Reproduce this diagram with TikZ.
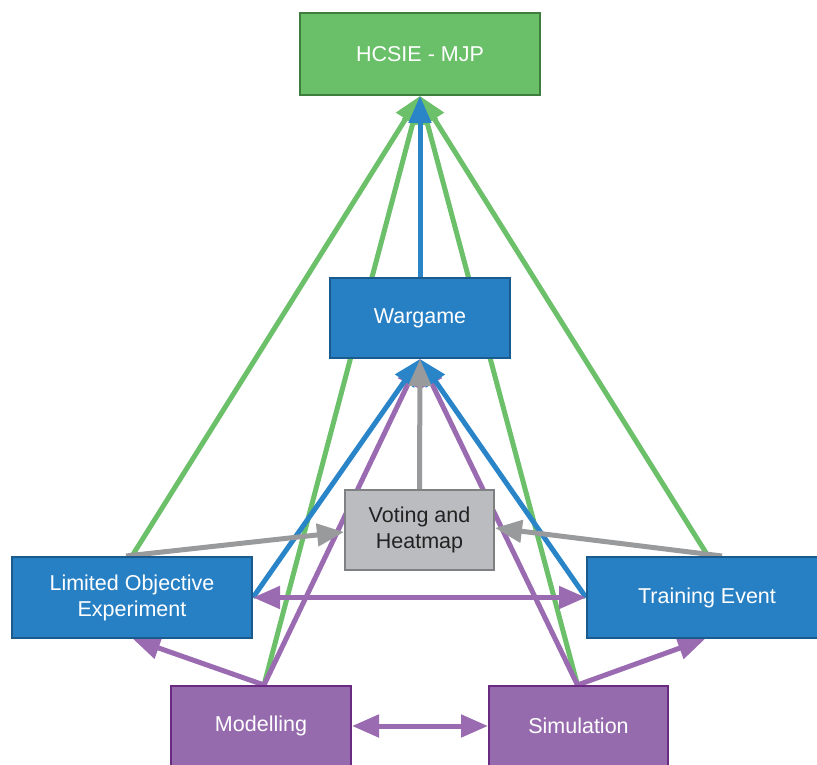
\documentclass[tikz,border=0pt]{standalone}
\usepackage{fontspec}
\setmainfont{Liberation Sans}
\usetikzlibrary{arrows.meta,calc,backgrounds}

\definecolor{grnfill}{HTML}{6ABF69}
\definecolor{grnedge}{HTML}{3D7E3C}
\definecolor{grnline}{HTML}{6CC06A}
\definecolor{blufill}{HTML}{2880C4}
\definecolor{bluedge}{HTML}{1B5A8C}
\definecolor{bluline}{HTML}{2A85C8}
\definecolor{gryfill}{HTML}{BBBCBF}
\definecolor{gryedge}{HTML}{7F8082}
\definecolor{gryline}{HTML}{999A9C}
\definecolor{purfill}{HTML}{966BAD}
\definecolor{puredge}{HTML}{6B2A82}
\definecolor{purline}{HTML}{9A6BB0}
\definecolor{txtdark}{HTML}{222222}

\tikzset{
  box/.style={draw, line width=2pt, inner sep=0pt, align=center,
    font=\fontsize{21.5}{26}\selectfont, text=white},
  greenbox/.style={box, fill=grnfill, draw=grnedge},
  bluebox/.style={box, fill=blufill, draw=bluedge},
  graybox/.style={box, fill=gryfill, draw=gryedge, text=txtdark},
  purplebox/.style={box, fill=purfill, draw=puredge},
  link/.style={line width=5pt, -{Triangle[length=27pt,width=22pt]}},
  twoway/.style={line width=5pt, {Triangle[length=27pt,width=22pt]}-{Triangle[length=27pt,width=22pt]}},
}

\begin{document}
\begin{tikzpicture}[x=1pt,y=-1pt]
\useasboundingbox (0,0) rectangle (817,765);

% boxes
\node[greenbox, minimum width=240, minimum height=82] (hcsie) at (420,54) {HCSIE - MJP};
\node[bluebox, minimum width=180, minimum height=80] (war) at (420,318) {Wargame};
\node[graybox, minimum width=149, minimum height=80] (vote) at (419.5,530) {Voting and\\Heatmap};
\node[bluebox, minimum width=240, minimum height=81] (loe) at (132,597.5) {Limited Objective\\Experiment};
\node[bluebox, minimum width=240, minimum height=81] (train) at (707,597.5) {Training Event};
\node[purplebox, minimum width=180, minimum height=80] (model) at (261,726) {Modelling};
\node[purplebox, minimum width=179, minimum height=80] (sim) at (578.5,726) {Simulation};

% connector end points on the box edges
\coordinate (loeTop) at ($(loe.north)+(0,0)$);
\coordinate (loeGray) at ($(loe.north)+(-6,0)$);
\coordinate (trainTop) at ($(train.north)+(1,0)$);
\coordinate (trainGray) at ($(train.north)+(15,0)$);
\coordinate (modelTop) at ($(model.north)+(3,0)$);
\coordinate (simTop) at ($(sim.north)+(-1,0)$);
\coordinate (voteIn) at ($(vote.west)+(0,2)$);
\coordinate (voteInR) at ($(vote.east)+(0,-2)$);
\coordinate (loeBot) at ($(loe.south)+(1,0)$);
\coordinate (trainBot) at ($(train.south)+(-2,0)$);

% connectors, kept under the boxes
\begin{scope}[on background layer]
  % everything feeds the MJP
  \draw[link, grnline] (loeTop) -- (hcsie.south);
  \draw[link, grnline] (trainTop) -- (hcsie.south);
  \draw[link, grnline] (modelTop) -- (hcsie.south);
  \draw[link, grnline] (simTop) -- (hcsie.south);
  % modelling and simulation support the other events
  \draw[link, purline] (modelTop) -- (war.south);
  \draw[link, purline] (simTop) -- (war.south);
  \draw[link, purline] (modelTop) -- (loeBot);
  \draw[link, purline] (simTop) -- (trainBot);
  % experiments and training feed the wargame
  \draw[link, bluline] (loe.east) -- (war.south);
  \draw[link, bluline] (train.west) -- (war.south);
  \draw[link, bluline] (war.north) -- (hcsie.south);
  % voting and heatmap
  \draw[link, gryline] (loeGray) -- (voteIn);
  \draw[link, gryline] (trainGray) -- (voteInR);
  \draw[link, gryline] (vote.north) -- (war.south);
  % two-way exchanges
  \draw[twoway, purline] (loe.east) -- (train.west);
  \draw[twoway, purline] (model.east) -- (sim.west);
\end{scope}
\end{tikzpicture}
\end{document}
